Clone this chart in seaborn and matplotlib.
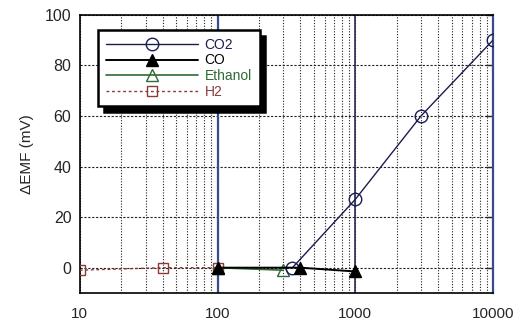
import numpy as np
import pandas as pd
import matplotlib
matplotlib.use("Agg")
import matplotlib.pyplot as plt
import seaborn as sns

# data (gas concentration vs delta EMF)
co2_conc = [350, 1000, 3000, 10000]
co2_emf = [0, 27, 60, 90]
co_conc = [100, 400, 1000]
co_emf = [0, 0, -1.5]
eth_conc = [100, 300]
eth_emf = [0, -1]
h2_conc = [10, 40, 100]
h2_emf = [-1, 0, 0]

series_names = ["CO2", "CO", "Ethanol", "H2"]
x_ticks = [10, 100, 1000, 10000]
x_labels = ["10", "100", "1000", "10000"]
y_ticks = [0, 20, 40, 60, 80, 100]

sns.set_style("white")
plt.rcParams['font.family'] = ['Liberation Sans', 'DejaVu Sans']

fig = plt.figure(figsize=(5.25, 3.23), dpi=100)
ax = fig.add_axes([0.152, 0.093, 0.787, 0.861])

navy = "#3a4a8c"
ax.set_xscale("log")
ax.set_xlim(10, 10000)
ax.set_ylim(-10, 100)

# grid: dotted verticals on every decade step, dashed horizontals
ax.grid(True, which="both", axis="x", color="#222222", linestyle=(0, (1, 1.5)), linewidth=0.8)
ax.grid(True, which="major", axis="y", color="#222222", linestyle=(0, (2, 1.5)), linewidth=0.8)
ax.axvline(100, color=navy, linewidth=1.6, zorder=1.5)
ax.axvline(1000, color="#2a2a55", linewidth=1.2, zorder=1.5)

df = pd.concat([
    pd.DataFrame({"conc": co2_conc, "emf": co2_emf, "gas": "CO2"}),
    pd.DataFrame({"conc": co_conc, "emf": co_emf, "gas": "CO"}),
    pd.DataFrame({"conc": eth_conc, "emf": eth_emf, "gas": "Ethanol"}),
    pd.DataFrame({"conc": h2_conc, "emf": h2_emf, "gas": "H2"}),
])

styles = {
    "CO2": dict(color="#1c1c50", marker="o", mfc="none", mec="#1c1c50", ls="-", ms=9, lw=1.0),
    "CO": dict(color="black", marker="^", mfc="black", mec="black", ls="-", ms=8, lw=1.4),
    "Ethanol": dict(color="#2e6b35", marker="^", mfc="none", mec="#2e6b35", ls="-", ms=8, lw=1.2),
    "H2": dict(color="#8b3a3a", marker="s", mfc="none", mec="#8b3a3a", ls=(0, (2, 2)), ms=7, lw=1.0),
}
order = ["H2", "Ethanol", "CO2", "CO"]
for g in order:
    st = styles[g]
    sub = df[df["gas"] == g]
    sns.lineplot(data=sub, x="conc", y="emf", ax=ax, color=st["color"], marker=st["marker"],
                 markerfacecolor=st["mfc"], markeredgecolor=st["mec"], markersize=st["ms"],
                 markeredgewidth=1.0, linestyle=st["ls"], linewidth=st["lw"], label=g,
                 estimator=None, sort=False, zorder=3)

ax.set_xticks(x_ticks)
ax.set_xticklabels(x_labels)
ax.set_yticks(y_ticks)
ax.tick_params(axis="both", which="major", direction="in", length=5, width=1,
               labelsize=11.5, right=True, top=False)
ax.tick_params(axis="x", which="major", pad=10, length=0, labelsize=11)
ax.tick_params(axis="x", which="minor", length=0)
ax.tick_params(axis="y", pad=6)
ax.set_xlabel("")
ax.set_ylabel("ΔEMF (mV)", fontsize=11, labelpad=8)

for s in ["left", "bottom", "top"]:
    ax.spines[s].set_color("black")
    ax.spines[s].set_linewidth(1.2)
ax.spines["right"].set_color(navy)
ax.spines["right"].set_linewidth(1.6)

handles, labels = ax.get_legend_handles_labels()
hmap = dict(zip(labels, handles))
leg = ax.legend([hmap[n] for n in series_names], series_names, loc="upper left",
                bbox_to_anchor=(0.035, 0.96), fontsize=10, handlelength=6.6,
                handletextpad=0.5, labelspacing=0.12, borderpad=0.55, borderaxespad=0.3,
                fancybox=False, framealpha=1, edgecolor="black",
                shadow={"color": "black", "alpha": 1, "ox": 4, "oy": -4})
leg.get_frame().set_linewidth(1.8)
text_colors = ["#1c1c50", "black", "#2e6b35", "#8b3a3a"]
for t, c in zip(leg.get_texts(), text_colors):
    t.set_color(c)

fig.savefig("out.png", dpi=100)
